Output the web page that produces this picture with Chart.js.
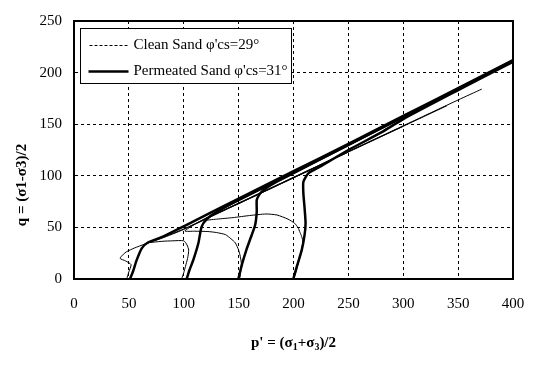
<!DOCTYPE html>
<html>
<head>
<meta charset="utf-8">
<script src="https://cdn.jsdelivr.net/npm/chart.js@4.4.0/dist/chart.umd.min.js"></script>
<style>
  body { margin: 0; background: #fff; }
  #wrap { width: 558px; height: 366px; }
</style>
</head>
<body>
<div id="wrap"><canvas id="stress"></canvas></div>
<script>
// ---- tick values ----
const xTicks = [0, 50, 100, 150, 200, 250, 300, 350, 400];
const yTicks = [0, 50, 100, 150, 200, 250];

// ---- clean sand (thin) : p' and q ----
const clean50P = [48, 50, 52, 47, 42, 45, 48, 55, 65, 80, 100, 150, 200, 250];
const clean50Q = [0, 7, 14, 17.5, 20, 24, 26.5, 30, 34, 39.5, 48, 73, 98, 123];

const clean100P = [98, 100, 101.5, 103.5, 104.5, 103, 100, 90, 80, 67, 65, 80, 100, 150, 200, 250, 300];
const clean100Q = [0, 6, 12, 20, 28, 33, 37, 37, 36.5, 35, 34, 40, 48.5, 73.5, 98.5, 123.5, 148];

const clean150P = [151, 152, 152.5, 151.5, 150, 147, 143, 138, 130, 122, 110, 101, 110, 122, 150, 200, 250, 300, 340];
const clean150Q = [0, 8, 15, 22, 28, 35, 39, 43, 45, 46, 46.3, 46.5, 53, 60, 73, 98, 123, 148, 168];

const clean200P = [200, 202, 204, 206.5, 208.5, 207.5, 206, 204, 201, 195, 185, 175, 160, 145, 130, 118, 125, 150, 200, 250, 300, 350, 371.5];
const clean200Q = [0, 6, 14, 24, 36, 41, 45, 50, 54, 58, 62, 63, 61.5, 59.5, 58, 57, 61, 73.5, 98.5, 123.5, 148.5, 173.5, 184];

// ---- permeated sand (thick) : p' and q ----
const perm50P = [51, 54, 57, 61.7, 67.7, 81, 100, 150, 200, 250, 300, 350, 400];
const perm50Q = [0, 8, 18, 29.7, 35.6, 41, 51, 78, 104.5, 131, 158, 185, 212];

const perm100P = [102.7, 105, 108.7, 113.3, 116.3, 121, 130, 150, 200, 250, 300, 350, 400];
const perm100Q = [0, 8, 18.4, 34.6, 50.7, 58, 65, 76.5, 103, 130, 157, 184, 211];

const perm150P = [149.7, 153, 157, 161, 165, 166.5, 166.5, 169, 172.5, 180, 200, 250, 300, 350, 400];
const perm150Q = [0, 14, 28, 40, 52, 65, 76.5, 82, 86, 91.5, 102.5, 130, 157, 184, 211.5];

const perm200P = [199.8, 203, 207.5, 210, 211, 210, 209, 209, 213.5, 224, 250, 280, 300, 350, 400];
const perm200Q = [0, 12, 28, 42, 54, 70, 83, 94, 102.4, 108.8, 125, 142, 155, 183, 210.5];

const legendLabels = ["Clean Sand \u03c6'cs=29\u00b0", "Permeated Sand \u03c6'cs=31\u00b0"];

function pts(ps, qs) {
  return ps.map((p, i) => ({ x: p, y: qs[i] }));
}

function thin(ps, qs) {
  return { data: pts(ps, qs), borderColor: '#000', borderWidth: 1, showLine: true, pointRadius: 0, tension: 0.2, fill: false };
}
function thick(ps, qs) {
  return { data: pts(ps, qs), borderColor: '#000', borderWidth: 2.5, showLine: true, pointRadius: 0, tension: 0.2, fill: false };
}

const FONT = "'Liberation Serif', 'Times New Roman', serif";

// frame, legend box and axis titles
const decor = {
  id: 'decor',
  afterDraw(chart) {
    const { ctx, chartArea: a } = chart;
    ctx.save();
    // top and right edges of the frame
    ctx.strokeStyle = '#000';
    ctx.lineWidth = 2;
    ctx.beginPath();
    ctx.moveTo(a.left, a.top);
    ctx.lineTo(a.right, a.top);
    ctx.lineTo(a.right, a.bottom);
    ctx.stroke();

    // legend
    const bx = a.left + 6.5, by = a.top + 7.5, bw = 211, bh = 55;
    ctx.fillStyle = '#fff';
    ctx.fillRect(bx, by, bw, bh);
    ctx.lineWidth = 1;
    ctx.strokeRect(bx, by, bw, bh);

    ctx.beginPath();
    ctx.setLineDash([3, 2]);
    ctx.moveTo(bx + 9, by + 17);
    ctx.lineTo(bx + 48, by + 17);
    ctx.stroke();
    ctx.setLineDash([]);
    ctx.lineWidth = 2.5;
    ctx.beginPath();
    ctx.moveTo(bx + 8, by + 43);
    ctx.lineTo(bx + 48, by + 43);
    ctx.stroke();

    ctx.fillStyle = '#000';
    ctx.font = '15px ' + FONT;
    ctx.textBaseline = 'middle';
    ctx.textAlign = 'left';
    ctx.fillText(legendLabels[0], bx + 53, by + 17);
    ctx.fillText(legendLabels[1], bx + 53, by + 43);

    // x title with subscripts
    const parts = [["p' = (\u03c3", 0], ['1', 1], ['+\u03c3', 0], ['3', 1], [')/2', 0]];
    const big = 'bold 15px ' + FONT, small = 'bold 10px ' + FONT;
    let w = 0;
    parts.forEach(([t, s]) => { ctx.font = s ? small : big; w += ctx.measureText(t).width; });
    let x = (a.left + a.right) / 2 - w / 2;
    const ty = 342;
    ctx.textBaseline = 'alphabetic';
    parts.forEach(([t, s]) => {
      ctx.font = s ? small : big;
      ctx.fillText(t, x, s ? ty + 8 : ty + 5);
      x += ctx.measureText(t).width;
    });

    // y title
    ctx.translate(22, 185);
    ctx.rotate(-Math.PI / 2);
    ctx.font = big;
    ctx.textAlign = 'center';
    ctx.textBaseline = 'middle';
    ctx.fillText('q = (\u03c31-\u03c33)/2', 0, 0);
    ctx.restore();
  }
};

new Chart(document.getElementById('stress'), {
  type: 'scatter',
  data: {
    datasets: [
      thin(clean50P, clean50Q),
      thin(clean100P, clean100Q),
      thin(clean150P, clean150Q),
      thin(clean200P, clean200Q),
      thick(perm50P, perm50Q),
      thick(perm100P, perm100Q),
      thick(perm150P, perm150Q),
      thick(perm200P, perm200Q)
    ]
  },
  options: {
    responsive: true,
    maintainAspectRatio: false,
    animation: false,
    devicePixelRatio: 1,
    layout: { padding: { top: 20, right: 45, left: 0, bottom: 0 } },
    plugins: { legend: { display: false }, tooltip: { enabled: false } },
    scales: {
      x: {
        type: 'linear',
        min: xTicks[0],
        max: xTicks[xTicks.length - 1],
        afterBuildTicks: (s) => { s.ticks = xTicks.map((v) => ({ value: v })); },
        afterFit: (s) => { s.height = 87; },
        ticks: { color: '#000', font: { family: FONT, size: 15 }, padding: 16 },
        grid: { color: '#000', lineWidth: 1, drawTicks: false },
        border: { display: true, color: '#000', width: 2, dash: [3, 3] }
      },
      y: {
        type: 'linear',
        min: yTicks[0],
        max: yTicks[yTicks.length - 1],
        afterBuildTicks: (s) => { s.ticks = yTicks.map((v) => ({ value: v })); },
        afterFit: (s) => { s.width = 74; },
        ticks: { color: '#000', font: { family: FONT, size: 15 }, padding: 12 },
        grid: { color: '#000', lineWidth: 1, drawTicks: false },
        border: { display: true, color: '#000', width: 2, dash: [3, 3] }
      }
    }
  },
  plugins: [decor]
});
</script>
</body>
</html>
